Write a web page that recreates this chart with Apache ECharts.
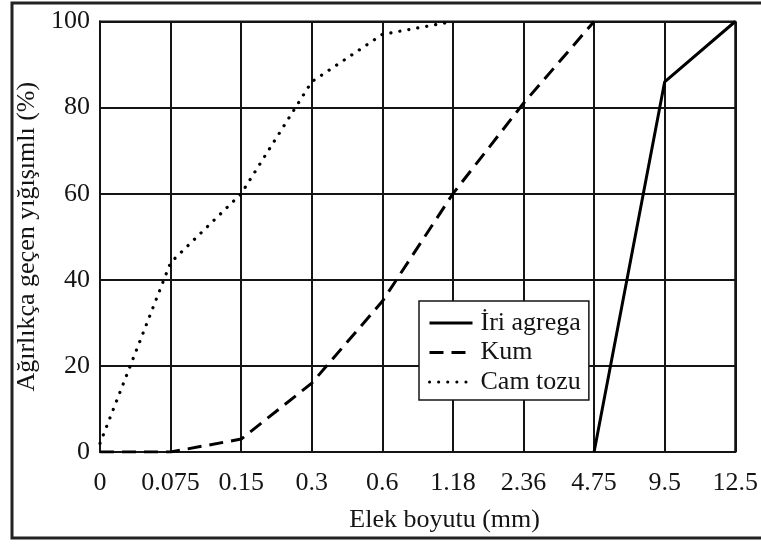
<!DOCTYPE html>
<html>
<head>
<meta charset="utf-8">
<script src="https://cdn.jsdelivr.net/npm/echarts@6/dist/echarts.min.js"></script>
<style>html,body{margin:0;padding:0;background:#fff}#c{width:761px;height:545px}</style>
</head>
<body>
<div id="c"></div>
<script>
const categories = ['0', '0.075', '0.15', '0.3', '0.6', '1.18', '2.36', '4.75', '9.5', '12.5'];
const iriAgrega = [null, null, null, null, null, null, null, 0, 86, 100];
const kum = [0, 0, 3, 16, 35, 60, 81, 100, null, null];
const camTozu = [2, 44, 60, 86, 97, 100, null, null, null, null];
const yTicks = [0, 20, 40, 60, 80, 100];

const chart = echarts.init(document.getElementById('c'), null, {renderer: 'canvas'});
const font = 'Liberation Serif';
const ink = '#141414';
chart.setOption({
  animation: false,
  backgroundColor: '#fff',
  textStyle: {fontFamily: font, color: ink},
  graphic: [{
    type: 'rect', z: 100, silent: true,
    shape: {x: 12, y: 3, width: 760, height: 535},
    style: {fill: 'none', stroke: '#222', lineWidth: 3}
  }],
  grid: {left: 100, right: 18, top: 21.5, bottom: 93, show: true, borderColor: ink, borderWidth: 2, containLabel: false},
  xAxis: {
    type: 'category', data: categories, boundaryGap: false,
    axisLine: {show: true, lineStyle: {color: ink, width: 2}},
    axisTick: {show: false},
    axisLabel: {margin: 18, fontSize: 26, fontFamily: font, color: ink, interval: 0},
    splitLine: {show: true, lineStyle: {color: ink, width: 2}},
    name: 'Elek boyutu (mm)', nameLocation: 'middle', nameGap: 55,
    nameTextStyle: {fontSize: 26, fontFamily: font, color: ink, padding: [0, 0, 0, 54]}
  },
  yAxis: {
    type: 'value', min: 0, max: 100, interval: 20,
    axisLine: {show: true, lineStyle: {color: ink, width: 2}},
    axisTick: {show: false},
    axisLabel: {margin: 10, fontSize: 26, fontFamily: font, color: ink,
      formatter: v => yTicks.includes(v) ? String(v) : ''},
    splitLine: {show: true, lineStyle: {color: ink, width: 2}},
    name: 'Ağırlıkça geçen yığışımlı (%)', nameLocation: 'middle', nameGap: 47,
    nameTextStyle: {fontSize: 26, fontFamily: font, color: ink}
  },
  legend: {
    orient: 'vertical', left: 419, top: 301,
    backgroundColor: '#fff', borderColor: ink, borderWidth: 1.5, borderRadius: 0,
    padding: [9, 8, 5, 9], itemGap: 3.5, itemWidth: 43, itemHeight: 0.5,
    itemStyle: {opacity: 0},
    lineStyle: {width: 3},
    textStyle: {fontSize: 26, fontFamily: font, color: ink, lineHeight: 26, padding: [0, 0, 0, 3]},
    data: ['İri agrega', 'Kum', 'Cam tozu']
  },
  series: [
    {name: 'İri agrega', type: 'line', data: iriAgrega, symbol: 'none', showSymbol: false, connectNulls: false,
      lineStyle: {color: '#000', width: 3, type: 'solid'}, itemStyle: {color: '#000'}, z: 3},
    {name: 'Kum', type: 'line', data: kum, symbol: 'none', showSymbol: false,
      lineStyle: {color: '#000', width: 3, type: [14, 8]}, itemStyle: {color: '#000'}, z: 3},
    {name: 'Cam tozu', type: 'line', data: camTozu, symbol: 'none', showSymbol: false,
      lineStyle: {color: '#000', width: 3.2, type: [0.1, 9], cap: 'round'}, itemStyle: {color: '#000'}, z: 3}
  ]
});
</script>
</body>
</html>
